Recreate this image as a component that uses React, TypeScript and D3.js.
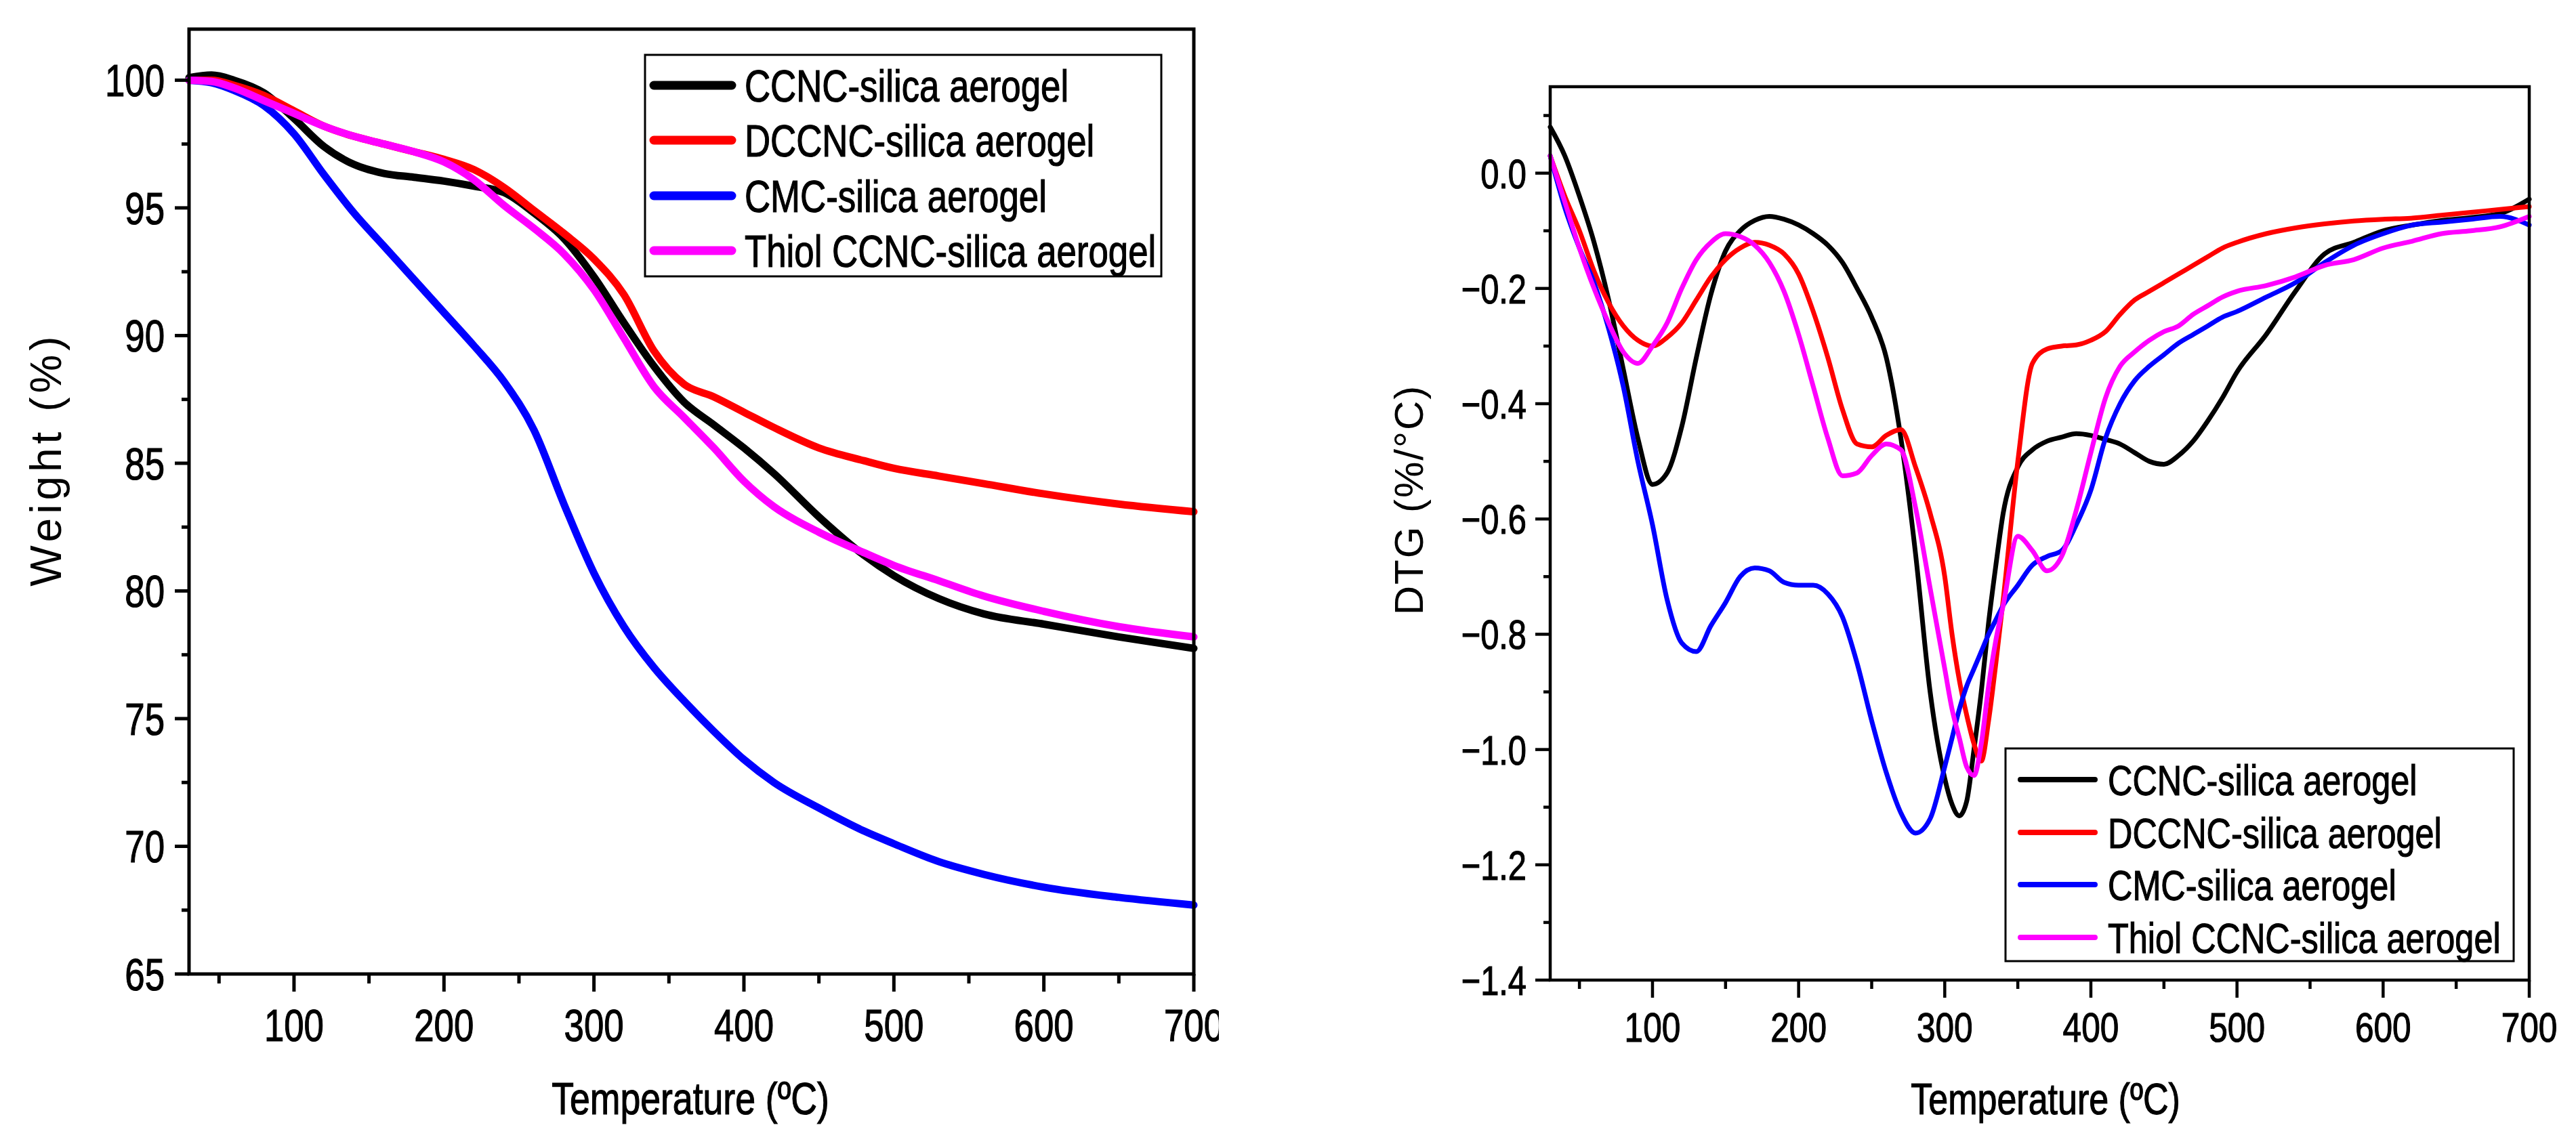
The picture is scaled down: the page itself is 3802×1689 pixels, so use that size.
import * as d3 from 'd3';
import { useEffect, useRef } from 'react';

// ── Data ───────────────────────────────────────────────────────────────
const seriesNames = [
  'CCNC-silica aerogel',
  'DCCNC-silica aerogel',
  'CMC-silica aerogel',
  'Thiol CCNC-silica aerogel',
];
const seriesColors = ['#000000', '#ff0000', '#0000ff', '#ff00ff'];

// TGA (left panel), temperature in ºC, weight in %
const tgaTemp = [30, 45, 60, 80, 100, 120, 140, 160, 180, 200, 220, 240, 260, 280, 300, 320, 340, 360, 380, 400, 420, 450, 480, 500, 530, 560, 600, 650, 700];
const tgaCCNC = [100.1, 100.2, 100.0, 99.5, 98.5, 97.4, 96.7, 96.35, 96.2, 96.05, 95.85, 95.6, 94.8, 93.8, 92.3, 90.5, 88.8, 87.4, 86.5, 85.6, 84.6, 82.9, 81.4, 80.6, 79.7, 79.1, 78.7, 78.2, 77.75];
const tgaDCCNC = [100.0, 100.0, 99.8, 99.4, 98.8, 98.2, 97.8, 97.5, 97.2, 96.9, 96.5, 95.8, 94.9, 94.0, 93.0, 91.6, 89.4, 88.1, 87.6, 87.0, 86.4, 85.6, 85.1, 84.8, 84.5, 84.2, 83.8, 83.4, 83.1];
const tgaCMC = [100.0, 99.9, 99.6, 99.0, 97.9, 96.3, 94.8, 93.5, 92.2, 90.9, 89.6, 88.2, 86.3, 83.4, 80.7, 78.6, 77.0, 75.7, 74.5, 73.4, 72.5, 71.5, 70.6, 70.1, 69.4, 68.9, 68.4, 68.0, 67.7];
const tgaThiol = [100.0, 99.95, 99.7, 99.2, 98.7, 98.2, 97.8, 97.5, 97.2, 96.8, 96.1, 95.1, 94.2, 93.2, 91.8, 89.9, 88.0, 86.8, 85.6, 84.3, 83.3, 82.3, 81.5, 81.0, 80.4, 79.8, 79.2, 78.6, 78.2];

// DTG (right panel), %/°C
const dtgTemp = [30, 40, 50, 60, 70, 80, 90, 100, 110, 120, 130, 140, 150, 160, 170, 180, 190, 200, 210, 220, 230, 240, 250, 260, 270, 280, 290, 300, 305, 310, 315, 320, 325, 330, 335, 340, 350, 360, 370, 380, 390, 400, 410, 420, 430, 440, 450, 460, 470, 480, 490, 500, 520, 540, 560, 580, 600, 620, 640, 660, 680, 700];
const dtgCCNC = [0.08, 0.03, -0.04, -0.12, -0.22, -0.34, -0.46, -0.54, -0.52, -0.44, -0.32, -0.21, -0.135, -0.1, -0.082, -0.075, -0.08, -0.09, -0.105, -0.125, -0.155, -0.2, -0.25, -0.32, -0.46, -0.66, -0.9, -1.05, -1.095, -1.115, -1.09, -1.0, -0.9, -0.78, -0.68, -0.59, -0.51, -0.48, -0.465, -0.458, -0.452, -0.455, -0.462, -0.47, -0.485, -0.5, -0.505, -0.49, -0.465, -0.43, -0.39, -0.345, -0.28, -0.205, -0.14, -0.12, -0.1, -0.09, -0.082, -0.077, -0.07, -0.045];
const dtgDCCNC = [0.03, -0.04, -0.1, -0.17, -0.225, -0.265, -0.29, -0.3, -0.285, -0.26, -0.22, -0.18, -0.15, -0.13, -0.12, -0.125, -0.14, -0.175, -0.24, -0.32, -0.41, -0.47, -0.475, -0.455, -0.445, -0.51, -0.59, -0.7, -0.8, -0.88, -0.94, -0.99, -1.02, -0.95, -0.85, -0.74, -0.5, -0.33, -0.305, -0.3, -0.298, -0.29, -0.275, -0.245, -0.22, -0.205, -0.19, -0.175, -0.16, -0.145, -0.13, -0.12, -0.105, -0.095, -0.088, -0.083, -0.08, -0.078, -0.073, -0.068, -0.063, -0.058];
const dtgCMC = [0.03, -0.06, -0.13, -0.19, -0.27, -0.37, -0.5, -0.61, -0.74, -0.815, -0.83, -0.785, -0.745, -0.7, -0.685, -0.69, -0.71, -0.715, -0.715, -0.73, -0.77, -0.85, -0.95, -1.04, -1.11, -1.145, -1.12, -1.03, -0.98, -0.93, -0.89, -0.86, -0.83, -0.8, -0.775, -0.75, -0.715, -0.68, -0.665, -0.655, -0.61, -0.55, -0.46, -0.4, -0.36, -0.335, -0.315, -0.295, -0.28, -0.265, -0.25, -0.24, -0.215, -0.19, -0.155, -0.125, -0.105, -0.09, -0.085, -0.08, -0.075, -0.09];
const dtgThiol = [0.03, -0.05, -0.13, -0.2, -0.26, -0.31, -0.33, -0.3, -0.26, -0.2, -0.15, -0.12, -0.105, -0.11, -0.125, -0.155, -0.205, -0.28, -0.37, -0.46, -0.525, -0.52, -0.49, -0.47, -0.48, -0.58, -0.72, -0.86, -0.93, -0.98, -1.03, -1.045, -0.99, -0.89, -0.81, -0.75, -0.63, -0.655, -0.69, -0.665, -0.585, -0.485, -0.39, -0.335, -0.31, -0.29, -0.275, -0.265, -0.245, -0.23, -0.215, -0.205, -0.195, -0.18, -0.16, -0.15, -0.13, -0.118, -0.105, -0.1, -0.093, -0.075];

const xMajorTicks = [100, 200, 300, 400, 500, 600, 700];
const xMinorTicks = [50, 150, 250, 350, 450, 550, 650];
const tgaMajorTicks = [65, 70, 75, 80, 85, 90, 95, 100];
const tgaMinorTicks = [67.5, 72.5, 77.5, 82.5, 87.5, 92.5, 97.5];
const dtgMajorTicks = [-1.4, -1.2, -1.0, -0.8, -0.6, -0.4, -0.2, 0.0];
const dtgMinorTicks = [-1.3, -1.1, -0.9, -0.7, -0.5, -0.3, -0.1, 0.1];

const FONT = "'Liberation Sans', Arial, sans-serif";
const NARROW = 0.8; // condensed look of the original labels

type G = d3.Selection<SVGGElement, unknown, null, undefined>;

function narrowText(g: G, x: number, y: number, str: string, size: number, anchor: string) {
  return g.append('text')
    .attr('transform', `translate(${x},${y}) scale(${NARROW},1)`)
    .attr('text-anchor', anchor)
    .attr('font-family', FONT)
    .attr('font-size', size)
    .attr('fill', '#000')
    .attr('stroke', '#000')
    .attr('stroke-width', 1.2)
    .text(str);
}

interface PanelCfg {
  left: number; right: number; top: number; bottom: number;
  yDomain: [number, number];
  temps: number[];
  series: number[][];
  yMajor: number[]; yMinor: number[];
  yFmt: (v: number) => string;
  lineW: number; axisW: number;
  yTickLen: number; yMinorLen: number; xTickLen: number; xMinorLen: number;
  yLabelRight: number; yLabelSize: number;
  xLabelBase: number; xLabelSize: number;
  xTitleX: number; xTitleSize: number;
  yTitle: string; yTitleX: number; yTitleY: number; yTitleSize: number; yTitleSpacing: number;
  legend: { x: number; y: number; w: number; h: number; rows: number[]; lx1: number; lx2: number; tx: number; size: number; lw: number };
}

function drawPanel(g: G, c: PanelCfg) {
  const x = d3.scaleLinear().domain([30, 700]).range([c.left, c.right]);
  const y = d3.scaleLinear().domain(c.yDomain).range([c.bottom, c.top]);

  // curves
  const line = d3.line<number>()
    .x((_, i) => x(c.temps[i]))
    .y(d => y(d))
    .curve(d3.curveMonotoneX);
  c.series.forEach((vals, si) => {
    g.append('path')
      .attr('d', line(vals) ?? '')
      .attr('fill', 'none')
      .attr('stroke', seriesColors[si])
      .attr('stroke-width', c.lineW)
      .attr('stroke-linejoin', 'round')
      .attr('stroke-linecap', 'round');
  });

  // frame
  g.append('rect')
    .attr('x', c.left).attr('y', c.top)
    .attr('width', c.right - c.left).attr('height', c.bottom - c.top)
    .attr('fill', 'none').attr('stroke', '#000').attr('stroke-width', c.axisW);

  // x ticks
  xMajorTicks.forEach(t => {
    g.append('line').attr('x1', x(t)).attr('x2', x(t))
      .attr('y1', c.bottom).attr('y2', c.bottom + c.xTickLen)
      .attr('stroke', '#000').attr('stroke-width', c.axisW);
    narrowText(g, x(t), c.xLabelBase, String(t), c.xLabelSize, 'middle');
  });
  xMinorTicks.forEach(t => {
    g.append('line').attr('x1', x(t)).attr('x2', x(t))
      .attr('y1', c.bottom).attr('y2', c.bottom + c.xMinorLen)
      .attr('stroke', '#000').attr('stroke-width', c.axisW);
  });

  // y ticks
  c.yMajor.forEach(v => {
    g.append('line').attr('x1', c.left - c.yTickLen).attr('x2', c.left)
      .attr('y1', y(v)).attr('y2', y(v))
      .attr('stroke', '#000').attr('stroke-width', c.axisW);
    narrowText(g, c.yLabelRight, y(v) + c.yLabelSize * 0.36, c.yFmt(v), c.yLabelSize, 'end');
  });
  c.yMinor.forEach(v => {
    g.append('line').attr('x1', c.left - c.yMinorLen).attr('x2', c.left)
      .attr('y1', y(v)).attr('y2', y(v))
      .attr('stroke', '#000').attr('stroke-width', c.axisW);
  });

  // axis titles
  narrowText(g, c.xTitleX, 1645, 'Temperature (ºC)', c.xTitleSize, 'middle');
  g.append('text')
    .attr('transform', `translate(${c.yTitleX},${c.yTitleY}) rotate(-90)`)
    .attr('text-anchor', 'middle')
    .attr('font-family', FONT)
    .attr('font-size', c.yTitleSize)
    .attr('letter-spacing', c.yTitleSpacing)
    .attr('fill', '#000')
    .text(c.yTitle);

  // legend
  const L = c.legend;
  g.append('rect')
    .attr('x', L.x).attr('y', L.y).attr('width', L.w).attr('height', L.h)
    .attr('fill', '#fff').attr('stroke', '#000').attr('stroke-width', 3);
  seriesNames.forEach((name, i) => {
    g.append('line')
      .attr('x1', L.lx1).attr('x2', L.lx2)
      .attr('y1', L.rows[i]).attr('y2', L.rows[i])
      .attr('stroke', seriesColors[i]).attr('stroke-width', L.lw)
      .attr('stroke-linecap', 'round');
    narrowText(g, L.tx, L.rows[i] + L.size * 0.36, name, L.size, 'start');
  });
}

export default function App() {
  const svgRef = useRef<SVGSVGElement | null>(null);

  useEffect(() => {
    if (!svgRef.current) return;
    const svg = d3.select(svgRef.current);
    svg.selectAll('*').remove();

    svg.append('defs').append('clipPath').attr('id', 'leftClip')
      .append('rect').attr('x', 0).attr('y', 0).attr('width', 1799).attr('height', 1689);

    const left = svg.append('g').attr('clip-path', 'url(#leftClip)') as unknown as G;
    drawPanel(left, {
      left: 279, right: 1762, top: 43, bottom: 1438,
      yDomain: [65, 102],
      temps: tgaTemp,
      series: [tgaCCNC, tgaDCCNC, tgaCMC, tgaThiol],
      yMajor: tgaMajorTicks, yMinor: tgaMinorTicks,
      yFmt: v => String(v),
      lineW: 11, axisW: 5,
      yTickLen: 21, yMinorLen: 11, xTickLen: 26, xMinorLen: 14,
      yLabelRight: 243, yLabelSize: 66,
      xLabelBase: 1537, xLabelSize: 66,
      xTitleX: 1019, xTitleSize: 67,
      yTitle: 'Weight (%)', yTitleX: 90, yTitleY: 678, yTitleSize: 64, yTitleSpacing: 6,
      legend: { x: 952, y: 81, w: 762, h: 327, rows: [126, 207, 289, 370], lx1: 965, lx2: 1080, tx: 1099, size: 66, lw: 13 },
    });

    const right = svg.append('g') as unknown as G;
    drawPanel(right, {
      left: 2288, right: 3733, top: 128, bottom: 1447,
      yDomain: [-1.4, 0.15],
      temps: dtgTemp,
      series: [dtgCCNC, dtgDCCNC, dtgCMC, dtgThiol],
      yMajor: dtgMajorTicks, yMinor: dtgMinorTicks,
      yFmt: d3.format('.1f'),
      lineW: 7, axisW: 4.5,
      yTickLen: 22, yMinorLen: 10, xTickLen: 26, xMinorLen: 13,
      yLabelRight: 2253, yLabelSize: 61,
      xLabelBase: 1538, xLabelSize: 62,
      xTitleX: 3019, xTitleSize: 65,
      yTitle: 'DTG (%/°C)', yTitleX: 2100, yTitleY: 738, yTitleSize: 60, yTitleSpacing: 2,
      legend: { x: 2960, y: 1105, w: 750, h: 314, rows: [1151, 1229, 1306, 1384], lx1: 2982, lx2: 3092, tx: 3111, size: 63, lw: 8 },
    });
  }, []);

  return (
    <svg
      ref={svgRef}
      width={3802}
      height={1689}
      style={{ position: 'absolute', left: 0, top: 0, background: '#fff' }}
    />
  );
}
